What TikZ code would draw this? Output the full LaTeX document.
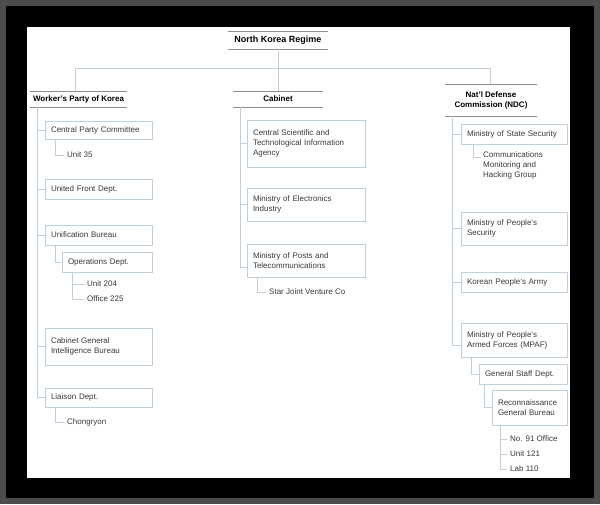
\documentclass[tikz,border=0pt]{standalone}
\usepackage{fontspec}
\setmainfont{Liberation Sans}
\definecolor{ln}{HTML}{BFD0DC}
\definecolor{hd}{HTML}{8A8F94}
\definecolor{tx}{HTML}{3A3A3A}
\begin{document}
\begin{tikzpicture}[x=1pt,y=-1pt,
  conn/.style={draw=ln,line width=0.8pt},
  txt/.style={font=\fontsize{8}{10}\selectfont,text=tx,inner sep=0pt},
  hdr/.style={font=\fontsize{8}{10}\selectfont\bfseries,text=black,inner sep=0pt,align=center}]
\useasboundingbox (0,0) rectangle (600,504);
\fill[black!70] (0,0) rectangle (600,504);
\fill[black] (6,6) rectangle (594,498);
\fill[white] (27,27) rectangle (570,478);
\newcommand\bx[6]{\node[draw=ln,line width=0.8pt,fill=white,txt,minimum width={#4-#2},minimum height={#5-#3},text width={#4-#2-12},align=left] (#1) at ({(#2+#4)/2},{(#3+#5)/2}) {#6};}
\newcommand\hd[6]{\draw[hd,line width=0.9pt] (#2,#3) -- (#4,#3) (#2,#5) -- (#4,#5);
  \node[hdr,minimum width={#4-#2},minimum height={#5-#3}] (#1) at ({(#2+#4)/2},{(#3+#5)/2}) {#6};}
% headers
\hd{top}{228}{31}{328}{49}{\fontsize{9}{11}\selectfont North Korea Regime}
\hd{wpk}{30}{91}{127}{107}{Worker's Party of Korea}
\hd{cab}{233}{91}{323}{107}{Cabinet}
\hd{ndc}{445}{84}{537}{116}{Nat'l Defense\\Commission (NDC)}
\coordinate (j1) at (75,68); \coordinate (j2) at (278,68); \coordinate (j3) at (490,68);
\draw[conn] (top.south) -- (j2);
\draw[conn] (j1) -- (j3);
\draw[conn] (j1) -- (j1 |- wpk.north);
\draw[conn] (j2) -- (cab.north);
\draw[conn] (j3) -- (j3 |- ndc.north);
% WPK
\bx{cpc}{45}{121}{152}{139}{Central Party Committee}
\node[txt,anchor=west] (u35) at (67,155) {Unit 35};
\bx{ufd}{45}{179}{152}{199}{United Front Dept.}
\bx{ub}{45}{225}{152}{245}{Unification Bureau}
\bx{od}{62}{252}{152}{272}{Operations Dept.}
\node[txt,anchor=west] (u204) at (87,284) {Unit 204};
\node[txt,anchor=west] (o225) at (87,299) {Office 225};
\bx{cgib}{45}{328}{152}{365}{Cabinet General\\Intelligence Bureau}
\bx{ld}{45}{388}{152}{407}{Liaison Dept.}
\node[txt,anchor=west] (chg) at (67,422) {Chongryon};
\draw[conn] (37,107) -- (37,397);
\foreach \n in {cpc,ufd,ub,cgib,ld} \draw[conn] (37,0 |- \n.west) -- (\n.west);
\draw[conn] (55,139) |- ([xshift=-3pt]u35.west);
\draw[conn] (55,245) |- (od.west);
\draw[conn] (72,272) |- ([xshift=-3pt]o225.west);
\draw[conn] (72,0 |- u204.west) -- ([xshift=-3pt]u204.west);
\draw[conn] (55,407) |- ([xshift=-3pt]chg.west);
% Cabinet
\bx{cst}{247}{120}{365}{167}{Central Scientific and\\Technological Information\\Agency}
\bx{mei}{247}{188}{365}{221}{Ministry of Electronics\\Industry}
\bx{mpt}{247}{244}{365}{277}{Ministry of Posts and\\Telecommunications}
\node[txt,anchor=west] (sjv) at (269,292) {Star Joint Venture Co};
\draw[conn] (240,107) -- (240,267);
\foreach \n in {cst,mei} \draw[conn] (240,0 |- \n.west) -- (\n.west);
\draw[conn] (240,267) -- (247,267);
\draw[conn] (257,277) |- ([xshift=-3pt]sjv.west);
% NDC
\bx{mss}{461}{124}{567}{144}{Ministry of State Security}
\node[txt,anchor=north west,align=left] (cmh) at (483,151) {Communications\\Monitoring and\\Hacking Group};
\bx{mps}{461}{212}{567}{245}{Ministry of People's\\Security}
\bx{kpa}{461}{272}{567}{292}{Korean People's Army}
\bx{mpaf}{461}{323}{567}{357}{Ministry of People's\\Armed Forces (MPAF)}
\bx{gsd}{479}{364}{567}{384}{General Staff Dept.}
\bx{rgb}{492}{390}{567}{425}{Reconnaissance\\General Bureau}
\node[txt,anchor=west] (n91) at (510,439) {No. 91 Office};
\node[txt,anchor=west] (u121) at (510,454) {Unit 121};
\node[txt,anchor=west] (l110) at (510,469) {Lab 110};
\draw[conn] (452,116) -- (452,345);
\foreach \n in {mss,mps,kpa} \draw[conn] (452,0 |- \n.west) -- (\n.west);
\draw[conn] (452,345) -- (461,345);
\draw[conn] (473,144) |- (481,157);
\draw[conn] (471,357) |- (gsd.west);
\draw[conn] (484,384) |- (rgb.west);
\draw[conn] (500,425) |- ([xshift=-3pt]l110.west);
\foreach \n in {n91,u121} \draw[conn] (500,0 |- \n.west) -- ([xshift=-3pt]\n.west);
\end{tikzpicture}
\end{document}
